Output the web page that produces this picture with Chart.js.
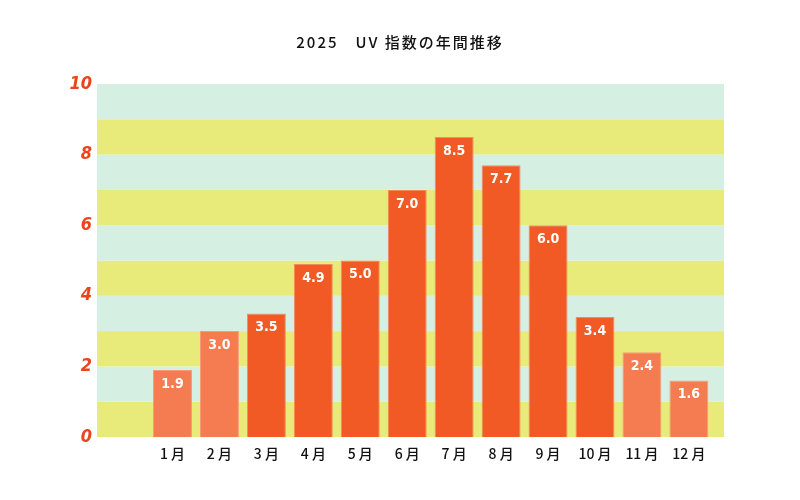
<!DOCTYPE html>
<html><head><meta charset="utf-8">
<script src="https://cdn.jsdelivr.net/npm/chart.js@4"></script>
<style>html,body{margin:0;padding:0;background:#fff}#wrap{width:800px;height:500px}</style>
</head><body><div id="wrap"><canvas id="c"></canvas></div>
<script>
const TITLE = "2025　UV 指数の年間推移";
const monthLabels = ["1 月","2 月","3 月","4 月","5 月","6 月","7 月","8 月","9 月","10 月","11 月","12 月"];
const uvValues = [1.9, 3.0, 3.5, 4.9, 5.0, 7.0, 8.5, 7.7, 6.0, 3.4, 2.4, 1.6];
const barShade = ["light","light","dark","dark","dark","dark","dark","dark","dark","dark","light","light"];
const yTicks = [0, 2, 4, 6, 8, 10];

const FILL = {light: "#F47C50", dark: "#F15A24"};
const EDGE = {light: "#F59C7A", dark: "#F48A60"};
const MINT = "#D5F0E3", YELLOW = "#E8EB7A";

const bandPlugin = {
  id: "bands",
  beforeDatasetsDraw(chart) {
    const {ctx, chartArea: a, scales: {y}} = chart;
    ctx.save();
    for (let v = 0; v < 10; v++) {
      const top = y.getPixelForValue(v + 1), bot = y.getPixelForValue(v);
      ctx.fillStyle = (v % 2 === 0) ? YELLOW : MINT;
      ctx.fillRect(a.left, top, a.right - a.left, bot - top);
    }
    ctx.restore();
  }
};
const valuePlugin = {
  id: "vals",
  afterDatasetsDraw(chart) {
    const {ctx} = chart;
    const meta = chart.getDatasetMeta(0);
    ctx.save();
    ctx.fillStyle = "#fff";
    ctx.font = "bold 14px 'DejaVu Sans Condensed', 'Liberation Sans Narrow', sans-serif";
    ctx.textAlign = "center";
    ctx.textBaseline = "middle";
    meta.data.forEach((el, i) => {
      ctx.fillText(uvValues[i].toFixed(1), el.x, el.y + 14);
    });
    ctx.restore();
  }
};
const titlePlugin = {
  id: "ttl",
  afterDraw(chart) {
    const {ctx} = chart;
    ctx.save();
    ctx.fillStyle = "#111";
    ctx.font = "500 15px 'Noto Sans CJK JP', sans-serif";
    if ('letterSpacing' in ctx) ctx.letterSpacing = "2px";
    ctx.textAlign = "center";
    ctx.textBaseline = "middle";
    ctx.fillText(TITLE, 400, 42);
    ctx.restore();
  }
};

new Chart(document.getElementById("c"), {
  type: "bar",
  data: {
    datasets: [{
      data: uvValues.map((v, i) => ({x: i + 1, y: v})),
      backgroundColor: barShade.map(s => FILL[s]),
      borderColor: barShade.map(s => EDGE[s]),
      borderWidth: 1,
      barPercentage: 0.83,
      categoryPercentage: 1
    }]
  },
  options: {
    responsive: true,
    maintainAspectRatio: false,
    animation: false,
    layout: {padding: {top: 84, right: 76, left: 0, bottom: 0}},
    plugins: {legend: {display: false}, tooltip: {enabled: false}, title: {display: false}},
    scales: {
      x: {
        type: "linear",
        offset: false,
        min: -0.608, max: 12.748,
        grid: {display: false, drawTicks: false, offset: false},
        border: {display: false},
        afterFit(s) { s.height = 63; },
        afterBuildTicks(s) {
          s.ticks = monthLabels.map((_, i) => ({value: i + 1}));
        },
        ticks: {
          autoSkip: false, maxRotation: 0,
          padding: 8,
          color: "#111",
          font: {family: "'Noto Sans CJK JP', sans-serif", size: 14, weight: "500"},
          callback: (v) => monthLabels[v - 1] || ""
        }
      },
      y: {
        min: 0, max: 10,
        grid: {display: false, drawTicks: false},
        border: {display: false},
        afterFit(s) { s.width = 97; },
        afterBuildTicks(s) { s.ticks = yTicks.map(v => ({value: v})); },
        ticks: {
          padding: 5,
          color: "#E9451D",
          font: {family: "'DejaVu Sans Condensed', 'Liberation Sans Narrow', sans-serif", size: 18, weight: "bold", style: "italic"}
        }
      }
    }
  },
  plugins: [bandPlugin, valuePlugin, titlePlugin]
});
</script></body></html>
